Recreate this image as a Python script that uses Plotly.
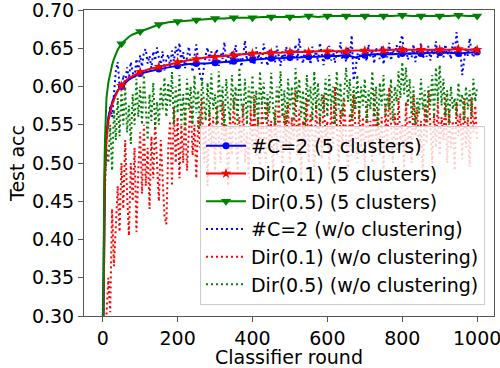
import plotly.graph_objects as go

# ---------------- data ----------------
noisy_rounds = list(range(0, 1001, 5))

c2_noclust = [
    0.29, 0.47, 0.53, 0.55, 0.575, 0.56, 0.59, 0.62, 0.632, 0.60,
    0.595, 0.615, 0.603, 0.625, 0.61, 0.632, 0.618, 0.612, 0.636, 0.62,
    0.641, 0.626, 0.645, 0.649, 0.63, 0.64, 0.624, 0.646, 0.634, 0.651,
    0.638, 0.629, 0.646, 0.621, 0.636, 0.642, 0.626, 0.647, 0.633, 0.652,
    0.641, 0.657, 0.63, 0.645, 0.624, 0.641, 0.652, 0.634, 0.619, 0.64,
    0.655, 0.633, 0.615, 0.607, 0.626, 0.641, 0.651, 0.634, 0.646, 0.629,
    0.638, 0.649, 0.627, 0.644, 0.636, 0.658, 0.63, 0.642, 0.628, 0.647,
    0.637, 0.654, 0.631, 0.645, 0.626, 0.64, 0.66, 0.634, 0.645, 0.632,
    0.643, 0.628, 0.651, 0.636, 0.645, 0.63, 0.656, 0.638, 0.627, 0.648,
    0.635, 0.642, 0.631, 0.653, 0.639, 0.627, 0.646, 0.634, 0.652, 0.64,
    0.633, 0.648, 0.637, 0.655, 0.634, 0.663, 0.641, 0.63, 0.65, 0.636,
    0.645, 0.629, 0.652, 0.638, 0.646, 0.632, 0.657, 0.64, 0.628, 0.647,
    0.637, 0.653, 0.634, 0.648, 0.631, 0.645, 0.639, 0.658, 0.635, 0.646,
    0.632, 0.652, 0.64, 0.667, 0.608, 0.62, 0.643, 0.635, 0.65, 0.637,
    0.644, 0.633, 0.655, 0.639, 0.648, 0.63, 0.651, 0.641, 0.636, 0.653,
    0.629, 0.645, 0.638, 0.657, 0.634, 0.648, 0.641, 0.654, 0.636, 0.66,
    0.667, 0.64, 0.651, 0.635, 0.646, 0.638, 0.655, 0.632, 0.649, 0.641,
    0.657, 0.636, 0.645, 0.639, 0.653, 0.634, 0.648, 0.642, 0.659, 0.637,
    0.646, 0.652, 0.638, 0.655, 0.641, 0.648, 0.636, 0.657, 0.644, 0.671,
    0.642, 0.649, 0.615, 0.632, 0.651, 0.64, 0.663, 0.645, 0.638, 0.652,
    0.644,
]

dir01_noclust = [
    0.25, 0.27, 0.30, 0.35, 0.305, 0.44, 0.365, 0.42, 0.47, 0.41,
    0.50, 0.44, 0.53, 0.46, 0.405, 0.50, 0.45, 0.52, 0.41, 0.49,
    0.54, 0.46, 0.55, 0.47, 0.52, 0.44, 0.535, 0.48, 0.555, 0.50,
    0.45, 0.53, 0.48, 0.43, 0.42, 0.52, 0.555, 0.47, 0.573, 0.50,
    0.56, 0.48, 0.55, 0.50, 0.57, 0.49, 0.54, 0.58, 0.51, 0.55,
    0.48, 0.56, 0.52, 0.585, 0.50, 0.55, 0.47, 0.57, 0.52, 0.56,
    0.49, 0.575, 0.53, 0.50, 0.58, 0.52, 0.55, 0.47, 0.565, 0.51,
    0.585, 0.53, 0.49, 0.56, 0.515, 0.575, 0.50, 0.54, 0.48, 0.57,
    0.52, 0.589, 0.51, 0.56, 0.49, 0.575, 0.53, 0.50, 0.58, 0.52,
    0.555, 0.48, 0.57, 0.51, 0.59, 0.53, 0.495, 0.565, 0.52, 0.58,
    0.50, 0.56, 0.53, 0.595, 0.51, 0.57, 0.48, 0.555, 0.52, 0.585,
    0.50, 0.565, 0.535, 0.49, 0.58, 0.52, 0.56, 0.505, 0.59, 0.53,
    0.555, 0.49, 0.575, 0.52, 0.60, 0.54, 0.50, 0.57, 0.515, 0.585,
    0.53, 0.48, 0.565, 0.51, 0.59, 0.535, 0.50, 0.57, 0.52, 0.56,
    0.49, 0.58, 0.525, 0.555, 0.50, 0.595, 0.53, 0.57, 0.51, 0.56,
    0.485, 0.575, 0.52, 0.599, 0.54, 0.50, 0.565, 0.515, 0.585, 0.53,
    0.55, 0.49, 0.58, 0.52, 0.56, 0.50, 0.59, 0.535, 0.57, 0.51,
    0.555, 0.48, 0.575, 0.525, 0.595, 0.54, 0.50, 0.565, 0.52, 0.58,
    0.51, 0.56, 0.53, 0.59, 0.50, 0.57, 0.52, 0.555, 0.49, 0.58,
    0.535, 0.565, 0.505, 0.585, 0.52, 0.56, 0.495, 0.586, 0.54, 0.575,
    0.53,
]

dir05_noclust = [
    0.30, 0.45, 0.52, 0.50, 0.55, 0.49, 0.57, 0.53, 0.585, 0.535,
    0.595, 0.55, 0.60, 0.54, 0.575, 0.525, 0.59, 0.55, 0.61, 0.56,
    0.60, 0.55, 0.615, 0.57, 0.53, 0.59, 0.555, 0.605, 0.545, 0.58,
    0.55, 0.60, 0.57, 0.612, 0.56, 0.605, 0.575, 0.619, 0.55, 0.60,
    0.565, 0.615, 0.55, 0.59, 0.545, 0.61, 0.57, 0.60, 0.55, 0.615,
    0.565, 0.595, 0.545, 0.61, 0.58, 0.555, 0.605, 0.56, 0.617, 0.57,
    0.59, 0.55, 0.62, 0.565, 0.60, 0.545, 0.61, 0.575, 0.555, 0.615,
    0.57, 0.60, 0.55, 0.625, 0.58, 0.56, 0.61, 0.55, 0.60, 0.57,
    0.615, 0.56, 0.595, 0.545, 0.62, 0.575, 0.605, 0.555, 0.59, 0.565,
    0.618, 0.57, 0.55, 0.60, 0.58, 0.62, 0.56, 0.595, 0.55, 0.61,
    0.57, 0.60, 0.555, 0.624, 0.58, 0.61, 0.56, 0.595, 0.545, 0.615,
    0.575, 0.60, 0.555, 0.62, 0.57, 0.605, 0.55, 0.59, 0.565, 0.61,
    0.56, 0.615, 0.575, 0.60, 0.55, 0.62, 0.57, 0.605, 0.56, 0.595,
    0.625, 0.58, 0.61, 0.555, 0.60, 0.57, 0.615, 0.56, 0.60, 0.575,
    0.61, 0.555, 0.595, 0.57, 0.62, 0.56, 0.60, 0.545, 0.605, 0.575,
    0.615, 0.56, 0.59, 0.57, 0.61, 0.555, 0.60, 0.58, 0.62, 0.585,
    0.632, 0.59, 0.625, 0.575, 0.61, 0.56, 0.60, 0.55, 0.585, 0.565,
    0.61, 0.57, 0.595, 0.555, 0.60, 0.575, 0.615, 0.56, 0.625, 0.58,
    0.628, 0.575, 0.61, 0.56, 0.595, 0.55, 0.60, 0.57, 0.585, 0.56,
    0.605, 0.575, 0.59, 0.555, 0.60, 0.57, 0.595, 0.56, 0.61, 0.58,
    0.60,
]

solid_rounds = [0, 2, 4, 6, 8, 10, 15, 20, 25, 30, 40, 50, 60, 70, 80, 90, 100,
                125, 150, 175, 200, 225, 250, 275, 300, 325, 350, 375, 400,
                425, 450, 475, 500, 525, 550, 575, 600, 625, 650, 675, 700,
                725, 750, 775, 800, 825, 850, 875, 900, 925, 950, 975, 1000]

c2_clust = [0.20, 0.34, 0.43, 0.49, 0.52, 0.54, 0.56, 0.571, 0.579, 0.586, 0.595, 0.600,
            0.605, 0.609, 0.612, 0.615, 0.617,
            0.620, 0.623, 0.625, 0.627, 0.629, 0.630, 0.630, 0.631, 0.632, 0.633, 0.634, 0.635,
            0.636, 0.637, 0.637, 0.638, 0.638, 0.639, 0.639, 0.640, 0.640, 0.641, 0.638, 0.641,
            0.642, 0.642, 0.642, 0.643, 0.643, 0.643, 0.644, 0.644, 0.644, 0.643, 0.644, 0.645]

dir01_clust = [0.20, 0.33, 0.42, 0.48, 0.51, 0.53, 0.555, 0.567, 0.576, 0.583, 0.594, 0.601,
               0.607, 0.611, 0.614, 0.617, 0.619,
               0.623, 0.626, 0.629, 0.632, 0.634, 0.636, 0.638, 0.639, 0.640, 0.641, 0.642, 0.643,
               0.643, 0.644, 0.644, 0.645, 0.645, 0.645, 0.646, 0.646, 0.646, 0.646, 0.647, 0.647,
               0.647, 0.647, 0.648, 0.648, 0.648, 0.648, 0.648, 0.648, 0.648, 0.649, 0.648, 0.648]

dir05_clust = [0.20, 0.40, 0.48, 0.53, 0.565, 0.585, 0.605, 0.618, 0.628, 0.636, 0.648, 0.656,
               0.661, 0.665, 0.668, 0.670, 0.672,
               0.677, 0.681, 0.684, 0.685, 0.686, 0.687, 0.688, 0.689, 0.689, 0.690, 0.690, 0.690,
               0.691, 0.691, 0.691, 0.691, 0.691, 0.692, 0.691, 0.692, 0.692, 0.692, 0.692, 0.692,
               0.692, 0.692, 0.692, 0.693, 0.692, 0.692, 0.692, 0.692, 0.692, 0.693, 0.692, 0.692]

x_ticks = [0, 200, 400, 600, 800, 1000]
y_ticks = [0.30, 0.35, 0.40, 0.45, 0.50, 0.55, 0.60, 0.65, 0.70]
y_tick_labels = ["0.30", "0.35", "0.40", "0.45", "0.50", "0.55", "0.60", "0.65", "0.70"]

for arr in (c2_noclust, dir01_noclust, dir05_noclust):
    assert len(arr) == len(noisy_rounds), len(arr)
for arr in (c2_clust, dir01_clust, dir05_clust):
    assert len(arr) == len(solid_rounds), len(arr)

labels = ["#C=2 (5 clusters)", "Dir(0.1) (5 clusters)", "Dir(0.5) (5 clusters)",
          "#C=2 (w/o clustering)", "Dir(0.1) (w/o clustering)", "Dir(0.5) (w/o clustering)"]

BLUE, RED, GREEN = "#0000ff", "#ff0000", "#008000"
DOT = "2px,3px"

fig = go.Figure()

# dotted (w/o clustering) series
for vals, col in ((c2_noclust, BLUE), (dir01_noclust, RED), (dir05_noclust, GREEN)):
    fig.add_trace(go.Scatter(x=noisy_rounds, y=vals, mode="lines", showlegend=False,
                             line=dict(color=col, width=2, dash=DOT), hoverinfo="skip"))

# solid (5 clusters) series with markers every 50 rounds
solid = [(c2_clust, BLUE, "circle", 7), (dir01_clust, RED, "star", 8),
         (dir05_clust, GREEN, "triangle-down", 9)]
for vals, col, sym, ms in solid:
    fig.add_trace(go.Scatter(x=solid_rounds, y=vals, mode="lines", showlegend=False,
                             line=dict(color=col, width=2), hoverinfo="skip"))
    mx = [r for r in solid_rounds if r % 50 == 0 and r > 0]
    my = [v for r, v in zip(solid_rounds, vals) if r % 50 == 0 and r > 0]
    fig.add_trace(go.Scatter(x=mx, y=my, mode="markers", showlegend=False,
                             marker=dict(color=col, symbol=sym, size=ms, line=dict(width=0)),
                             hoverinfo="skip"))

# legend entries
for (vals, col, sym, ms), lab in zip(solid, labels[:3]):
    fig.add_trace(go.Scatter(x=[None], y=[None], mode="lines+markers", name=lab,
                             line=dict(color=col, width=2),
                             marker=dict(color=col, symbol=sym, size=ms)))
for col, lab in zip((BLUE, RED, GREEN), labels[3:]):
    fig.add_trace(go.Scatter(x=[None], y=[None], mode="lines", name=lab,
                             line=dict(color=col, width=2, dash=DOT)))

axis_common = dict(showline=True, mirror=True, linecolor="#555555", linewidth=1,
                   ticks="outside", ticklen=5, tickwidth=1, tickcolor="#555555",
                   showgrid=False, zeroline=False, automargin=False,
                   ticklabeloverflow="allow",
                   tickfont=dict(family="DejaVu Sans", size=19, color="black"))

fig.update_layout(
    width=500, height=368,
    margin=dict(l=84, r=6, t=10, b=52),
    plot_bgcolor="white", paper_bgcolor="white",
    font=dict(family="DejaVu Sans", size=19, color="black"),
    xaxis=dict(range=[-50, 1045], tickvals=x_ticks,
               title=dict(text="Classifier round", standoff=5,
                          font=dict(family="DejaVu Sans", size=19)),
               **axis_common),
    yaxis=dict(range=[0.3, 0.7], tickvals=y_ticks, ticktext=y_tick_labels,
               title=dict(text="Test acc", standoff=2,
                          font=dict(family="DejaVu Sans", size=19)),
               **axis_common),
    legend=dict(x=0.978, y=0.036, xanchor="right", yanchor="bottom",
                bgcolor="rgba(255,255,255,0.8)", bordercolor="#cccccc", borderwidth=1,
                font=dict(family="DejaVu Sans", size=19, color="black"),
                itemwidth=40, traceorder="normal"),
)

fig.write_html("out.html", config={"displayModeBar": False},
               post_script="document.body.style.margin='0';document.body.style.overflow='hidden';")
